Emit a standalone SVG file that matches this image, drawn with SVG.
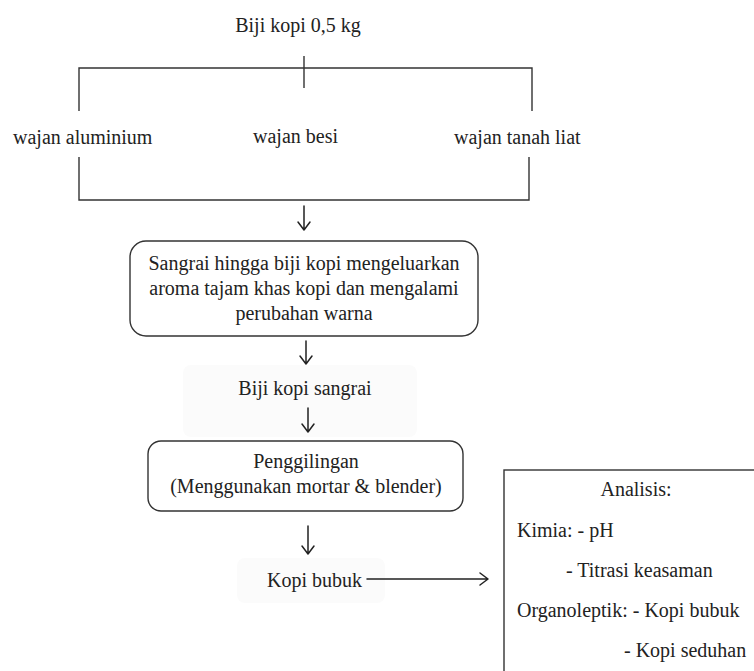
<svg xmlns="http://www.w3.org/2000/svg" width="754" height="671" viewBox="0 0 754 671">
<style>
text{font-family:"Liberation Serif","Times New Roman",serif;font-size:20px;fill:#222}
.c{text-anchor:middle}
.ln{stroke:#333;stroke-width:1.4;fill:none}
.box{stroke:#333;stroke-width:1.4;fill:#fff}
.ah{stroke:#222;stroke-width:1.5;fill:none;stroke-linecap:round;stroke-linejoin:round}
.bg{fill:#fbfbfb;stroke:none}
</style>
<rect width="754" height="671" fill="#fff"/>
<g id="bg-shades">
<rect class="bg" x="183" y="365" width="234" height="72" rx="8"/>
<rect class="bg" x="237" y="558" width="148" height="45" rx="8"/>
</g>
<g id="connectors">
<path class="ln" d="M304 56 V88"/>
<path class="ln" d="M79 111 V68 H532 V111"/>
<path class="ln" d="M79 157 V200 H529 V157"/>
<path class="ah" d="M304 206 V230 M298 222 L304 230 L310 222"/>
<path class="ah" d="M306 341 V364 M300 356 L306 364 L312 356"/>
<path class="ah" d="M308 408 V432 M302 424 L308 432 L314 424"/>
<path class="ah" d="M308 526 V554 M302 546 L308 554 L314 546"/>
<path class="ah" d="M367 579 H488 M480 573 L488 579 L480 585"/>
</g>
<g id="n-biji">
<text class="c" x="298" y="32">Biji kopi 0,5 kg</text>
</g>
<g id="n-aluminium">
<text x="13" y="144">wajan aluminium</text>
</g>
<g id="n-besi">
<text x="253" y="143">wajan besi</text>
</g>
<g id="n-tanah">
<text x="454" y="144">wajan tanah liat</text>
</g>
<g id="n-sangrai">
<rect class="box" x="130" y="241" width="348" height="95" rx="16"/>
<text class="c" x="304" y="270">Sangrai hingga biji kopi mengeluarkan</text>
<text class="c" x="304" y="295">aroma tajam khas kopi dan mengalami</text>
<text class="c" x="304" y="320">perubahan warna</text>
</g>
<g id="n-bijisangrai">
<text class="c" x="305" y="395">Biji kopi sangrai</text>
</g>
<g id="n-penggilingan">
<rect class="box" x="148" y="441" width="315" height="70" rx="13"/>
<text class="c" x="306" y="468">Penggilingan</text>
<text class="c" x="306" y="493">(Menggunakan mortar &amp; blender)</text>
</g>
<g id="n-kopibubuk">
<text x="267" y="587">Kopi bubuk</text>
</g>
<g id="n-analisis">
<rect class="box" x="504" y="470" width="270" height="230"/>
<text class="c" x="636" y="496">Analisis:</text>
<text x="517" y="537">Kimia: - pH</text>
<text x="566" y="577">- Titrasi keasaman</text>
<text x="517" y="617">Organoleptik: - Kopi bubuk</text>
<text x="624" y="657">- Kopi seduhan</text>
</g>
</svg>
